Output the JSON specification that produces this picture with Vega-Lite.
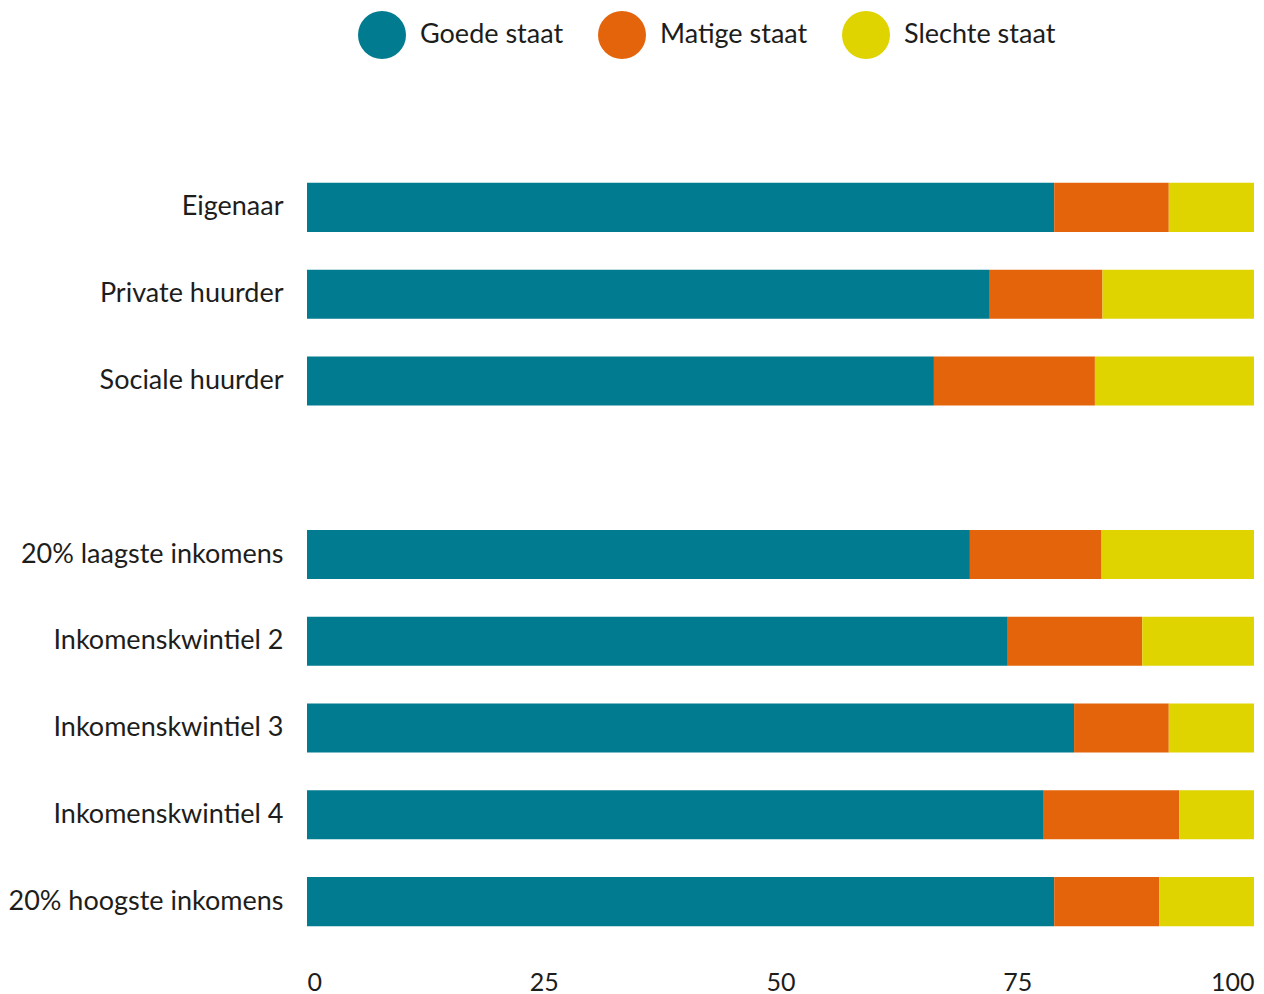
{
  "$schema": "https://vega.github.io/schema/vega-lite/v6.json",
  "width": 947,
  "height": 781,
  "autosize": "none",
  "padding": {"left": 307, "top": 164, "right": 10, "bottom": 49},
  "background": "white",
  "config": {
    "font": "Lato",
    "view": {"stroke": null},
    "axis": {"labelColor": "#1d1d1b", "labelFont": "Lato"},
    "legend": {"labelColor": "#1d1d1b", "labelFont": "Lato"}
  },
  "data": {
    "values": [
      {"groep": "Eigenaar", "staat": "Goede staat", "aandeel": 78.9},
      {"groep": "Eigenaar", "staat": "Matige staat", "aandeel": 12.1},
      {"groep": "Eigenaar", "staat": "Slechte staat", "aandeel": 9.0},
      {"groep": "Private huurder", "staat": "Goede staat", "aandeel": 72.1},
      {"groep": "Private huurder", "staat": "Matige staat", "aandeel": 11.9},
      {"groep": "Private huurder", "staat": "Slechte staat", "aandeel": 16.0},
      {"groep": "Sociale huurder", "staat": "Goede staat", "aandeel": 66.2},
      {"groep": "Sociale huurder", "staat": "Matige staat", "aandeel": 17.0},
      {"groep": "Sociale huurder", "staat": "Slechte staat", "aandeel": 16.8},
      {"groep": "20% laagste inkomens", "staat": "Goede staat", "aandeel": 70.0},
      {"groep": "20% laagste inkomens", "staat": "Matige staat", "aandeel": 13.9},
      {"groep": "20% laagste inkomens", "staat": "Slechte staat", "aandeel": 16.1},
      {"groep": "Inkomenskwintiel 2", "staat": "Goede staat", "aandeel": 74.0},
      {"groep": "Inkomenskwintiel 2", "staat": "Matige staat", "aandeel": 14.2},
      {"groep": "Inkomenskwintiel 2", "staat": "Slechte staat", "aandeel": 11.8},
      {"groep": "Inkomenskwintiel 3", "staat": "Goede staat", "aandeel": 81.0},
      {"groep": "Inkomenskwintiel 3", "staat": "Matige staat", "aandeel": 10.0},
      {"groep": "Inkomenskwintiel 3", "staat": "Slechte staat", "aandeel": 9.0},
      {"groep": "Inkomenskwintiel 4", "staat": "Goede staat", "aandeel": 77.8},
      {"groep": "Inkomenskwintiel 4", "staat": "Matige staat", "aandeel": 14.3},
      {"groep": "Inkomenskwintiel 4", "staat": "Slechte staat", "aandeel": 7.9},
      {"groep": "20% hoogste inkomens", "staat": "Goede staat", "aandeel": 78.9},
      {"groep": "20% hoogste inkomens", "staat": "Matige staat", "aandeel": 11.1},
      {"groep": "20% hoogste inkomens", "staat": "Slechte staat", "aandeel": 10.0}
    ]
  },
  "mark": {"type": "bar"},
  "encoding": {
    "y": {
      "field": "groep",
      "type": "nominal",
      "scale": {
        "domain": ["Eigenaar", "Private huurder", "Sociale huurder", " ", "20% laagste inkomens", "Inkomenskwintiel 2", "Inkomenskwintiel 3", "Inkomenskwintiel 4", "20% hoogste inkomens"],
        "paddingInner": 0.435,
        "paddingOuter": 0.2175
      },
      "axis": {
        "title": null,
        "ticks": false,
        "domain": false,
        "labelFontSize": 27,
        "labelPadding": 24,
        "labelLimit": 400
      }
    },
    "x": {
      "field": "aandeel",
      "type": "quantitative",
      "stack": "zero",
      "scale": {"domain": [0, 100], "nice": false},
      "axis": {
        "title": null,
        "values": [0, 25, 50, 75, 100],
        "grid": false,
        "ticks": false,
        "domain": false,
        "labelFlush": true,
        "labelFontSize": 25,
        "labelPadding": 25
      }
    },
    "color": {
      "field": "staat",
      "type": "nominal",
      "scale": {
        "domain": ["Goede staat", "Matige staat", "Slechte staat"],
        "range": ["#007b8f", "#e3640a", "#dfd300"]
      },
      "legend": {
        "title": null,
        "orient": "none",
        "legendX": 51,
        "legendY": -153,
        "direction": "horizontal",
        "symbolType": "circle",
        "symbolSize": 2304,
        "symbolStrokeWidth": 0,
        "symbolOpacity": 1,
        "labelFontSize": 27,
        "labelOffset": 14,
        "columnPadding": 34,
        "padding": 0
      }
    }
  }
}
